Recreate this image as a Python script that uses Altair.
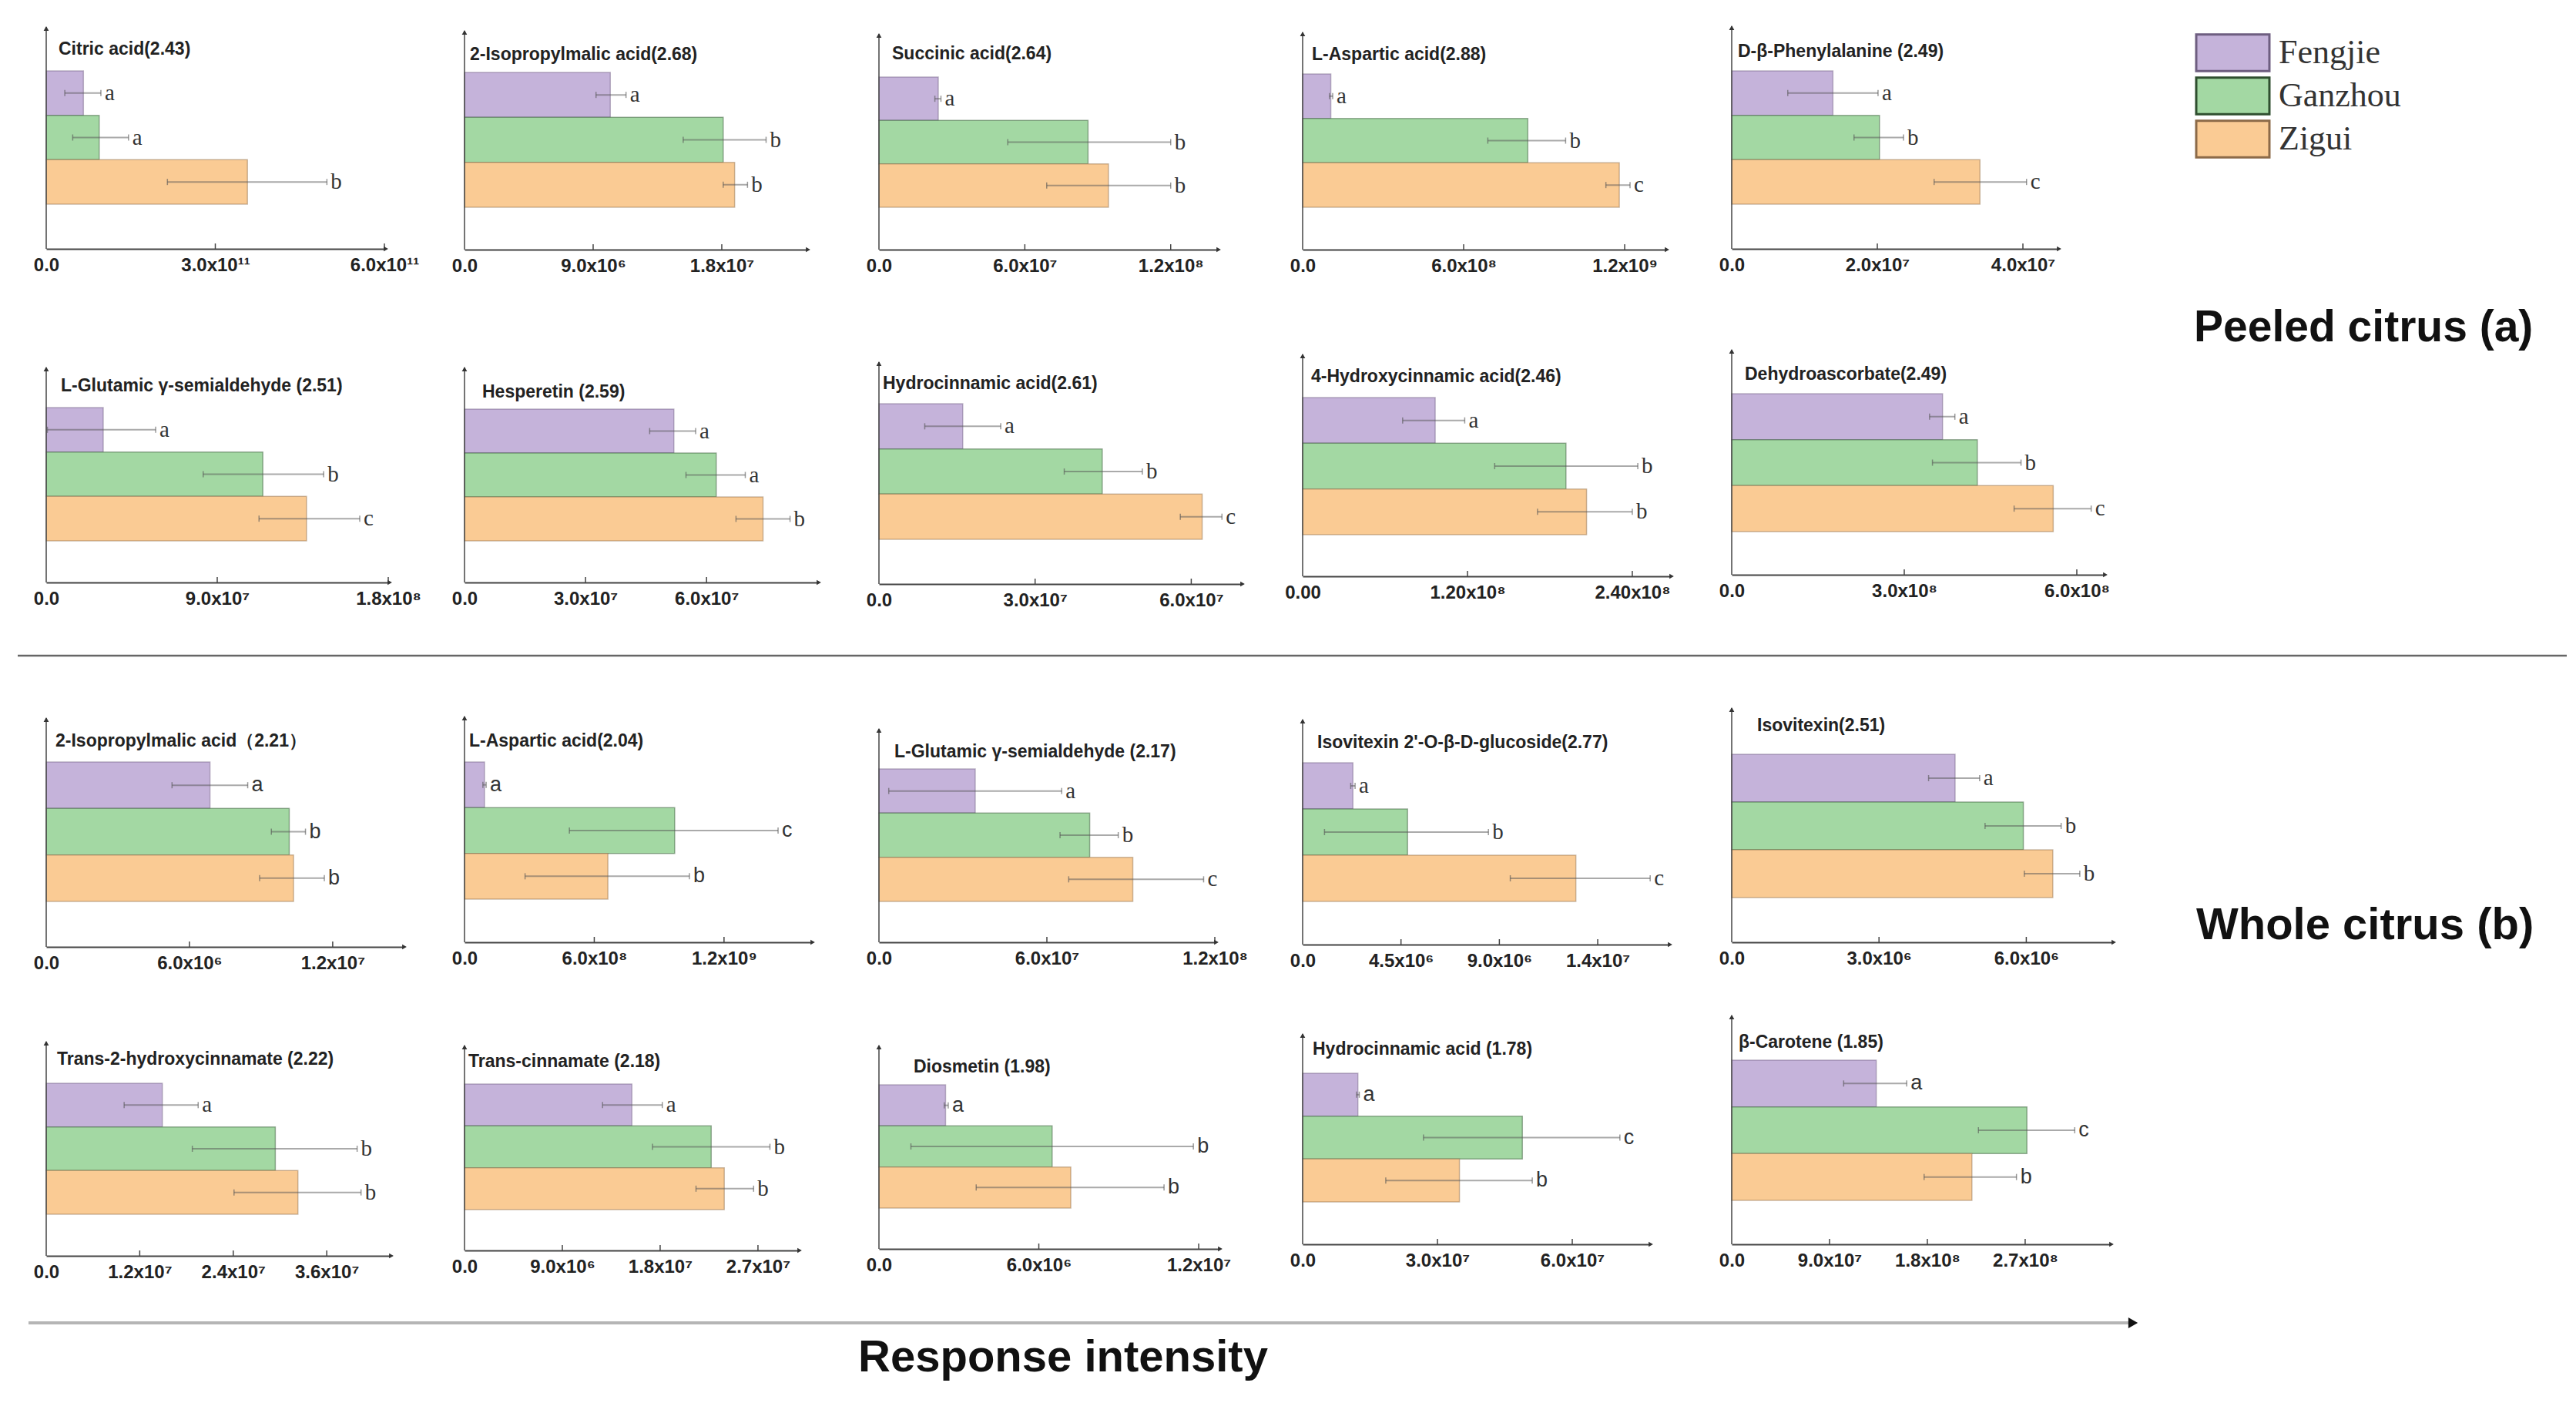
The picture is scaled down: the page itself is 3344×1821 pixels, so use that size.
import altair as alt
import pandas as pd

# ---------------- data ----------------
REGIONS = ["Fengjie", "Ganzhou", "Zigui"]

TITLES = [
    "Citric acid(2.43)", "2-Isopropylmalic acid(2.68)", "Succinic acid(2.64)",
    "L-Aspartic acid(2.88)", "D-β-Phenylalanine (2.49)",
    "L-Glutamic γ-semialdehyde (2.51)", "Hesperetin (2.59)", "Hydrocinnamic acid(2.61)",
    "4-Hydroxycinnamic acid(2.46)", "Dehydroascorbate(2.49)",
    "2-Isopropylmalic acid（2.21）", "L-Aspartic acid(2.04)", "L-Glutamic γ-semialdehyde (2.17)",
    "Isovitexin 2'-O-β-D-glucoside(2.77)", "Isovitexin(2.51)",
    "Trans-2-hydroxycinnamate (2.22)", "Trans-cinnamate (2.18)", "Diosmetin (1.98)",
    "Hydrocinnamic acid (1.78)", "β-Carotene (1.85)",
]

MEANS = [
    [0.66e11, 0.94e11, 3.57e11], [10.2e6, 18.1e6, 18.9e6], [24.4e6, 86e6, 94.4e6],
    [1.05e8, 8.39e8, 11.8e8], [13.9e6, 20.3e6, 34.1e6],
    [30e6, 114e6, 137e6], [51.9e6, 62.4e6, 74e6], [16.1e6, 42.9e6, 62.1e6],
    [96.5e6, 191.7e6, 206.7e6], [366.6e6, 427e6, 559e6],
    [6.86e6, 10.18e6, 10.36e6], [0.925e8, 9.72e8, 6.63e8], [34.4e6, 75.3e6, 90.7e6],
    [2.3e6, 4.8e6, 12.5e6], [4.55e6, 5.94e6, 6.54e6],
    [14.9e6, 29.4e6, 32.3e6], [15.4e6, 22.7e6, 23.9e6], [2.5e6, 6.5e6, 7.2e6],
    [12.3e6, 48.9e6, 34.9e6], [133e6, 271.6e6, 221e6],
]
ERR_LO = [
    [0.33e11, 0.47e11, 2.15e11], [9.2e6, 15.3e6, 18.1e6], [23.0e6, 53e6, 69e6],
    [1.0e8, 6.9e8, 11.3e8], [7.7e6, 16.8e6, 27.8e6],
    [0.6e6, 82.6e6, 112e6], [45.9e6, 54.9e6, 67.3e6], [8.8e6, 35.6e6, 57.9e6],
    [72.8e6, 139.8e6, 171e6], [344e6, 349e6, 491e6],
    [5.27e6, 9.43e6, 8.94e6], [0.85e8, 4.85e8, 2.8e8], [3.5e6, 64.7e6, 67.8e6],
    [2.2e6, 1.0e6, 9.5e6], [4.01e6, 5.16e6, 5.96e6],
    [10.0e6, 18.75e6, 24.1e6], [12.7e6, 17.3e6, 21.3e6], [2.45e6, 1.2e6, 3.65e6],
    [12.0e6, 26.9e6, 18.5e6], [103e6, 227e6, 177e6],
]
ERR_HI = [
    [0.97e11, 1.46e11, 4.98e11], [11.3e6, 21.1e6, 19.8e6], [25.5e6, 120e6, 120e6],
    [1.12e8, 9.8e8, 12.2e8], [20.1e6, 23.6e6, 40.5e6],
    [57.6e6, 146e6, 165e6], [57.3e6, 69.6e6, 80.7e6], [23.4e6, 50.6e6, 65.9e6],
    [118e6, 244e6, 240e6], [388e6, 503e6, 625e6],
    [8.44e6, 10.86e6, 11.65e6], [1.0e8, 14.5e8, 10.4e8], [65.3e6, 85.5e6, 116e6],
    [2.4e6, 8.5e6, 15.9e6], [5.05e6, 6.71e6, 7.09e6],
    [19.5e6, 39.9e6, 40.4e6], [18.2e6, 28.1e6, 26.6e6], [2.6e6, 11.8e6, 10.7e6],
    [12.6e6, 70.6e6, 51.1e6], [161e6, 315.6e6, 262e6],
]
LETTERS = [
    ["a", "a", "b"], ["a", "b", "b"], ["a", "b", "b"], ["a", "b", "c"], ["a", "b", "c"],
    ["a", "b", "c"], ["a", "a", "b"], ["a", "b", "c"], ["a", "b", "b"], ["a", "b", "c"],
    ["a", "b", "b"], ["a", "c", "b"], ["a", "b", "c"], ["a", "b", "c"], ["a", "b", "b"],
    ["a", "b", "b"], ["a", "b", "b"], ["a", "b", "b"], ["a", "c", "b"], ["a", "c", "b"],
]
TICKS = [
    [0, 3e11, 6e11], [0, 9e6, 1.8e7], [0, 6e7, 1.2e8], [0, 6e8, 1.2e9], [0, 2e7, 4e7],
    [0, 9e7, 1.8e8], [0, 3e7, 6e7], [0, 3e7, 6e7], [0, 1.2e8, 2.4e8], [0, 3e8, 6e8],
    [0, 6e6, 1.2e7], [0, 6e8, 1.2e9], [0, 6e7, 1.2e8], [0, 4.5e6, 9e6, 1.35e7], [0, 3e6, 6e6],
    [0, 1.2e7, 2.4e7, 3.6e7], [0, 9e6, 1.8e7, 2.7e7], [0, 6e6, 1.2e7], [0, 3e7, 6e7],
    [0, 9e7, 1.8e8, 2.7e8],
]
TICK_LABELS = [
    ["0.0", "3.0x10¹¹", "6.0x10¹¹"], ["0.0", "9.0x10⁶", "1.8x10⁷"], ["0.0", "6.0x10⁷", "1.2x10⁸"],
    ["0.0", "6.0x10⁸", "1.2x10⁹"], ["0.0", "2.0x10⁷", "4.0x10⁷"],
    ["0.0", "9.0x10⁷", "1.8x10⁸"], ["0.0", "3.0x10⁷", "6.0x10⁷"], ["0.0", "3.0x10⁷", "6.0x10⁷"],
    ["0.00", "1.20x10⁸", "2.40x10⁸"], ["0.0", "3.0x10⁸", "6.0x10⁸"],
    ["0.0", "6.0x10⁶", "1.2x10⁷"], ["0.0", "6.0x10⁸", "1.2x10⁹"], ["0.0", "6.0x10⁷", "1.2x10⁸"],
    ["0.0", "4.5x10⁶", "9.0x10⁶", "1.4x10⁷"], ["0.0", "3.0x10⁶", "6.0x10⁶"],
    ["0.0", "1.2x10⁷", "2.4x10⁷", "3.6x10⁷"], ["0.0", "9.0x10⁶", "1.8x10⁷", "2.7x10⁷"],
    ["0.0", "6.0x10⁶", "1.2x10⁷"], ["0.0", "3.0x10⁷", "6.0x10⁷"],
    ["0.0", "9.0x10⁷", "1.8x10⁸", "2.7x10⁸"],
]
# value at the arrow head of each x axis
XMAX = [
    6.0e11, 23.93e6, 13.91e7, 13.52e8, 4.476e7,
    18.0e7, 8.746e7, 6.956e7, 2.675e8, 6.469e8,
    14.94e6, 16.03e8, 12.0e7, 16.74e6, 7.751e6,
    4.409e7, 30.69e6, 12.75e6, 7.714e7, 3.480e8,
]

# ---------------- styles / layout ----------------
FILL = ["#C5B3DA", "#A3D8A3", "#FACB94"]
EDGE = ["#6E5E80", "#2F4F2F", "#8C6A48"]
SERIF = "Liberation Serif"
SANS = "Liberation Sans"
LETTER_FONT = [SERIF] * 10 + [SANS, SANS, SERIF, SERIF, SERIF, SERIF, SERIF, SANS, SANS, SANS]

COL_SPACE = 80
ROW_SPACE = 80
PANEL_W = [439, 444, 439, 471, 423, 444, 458, 470, 477, 483,
           463, 450, 436, 475, 494, 446, 433, 441, 450, 491]
PANEL_H = [293, 294, 294, 294, 293, 352, 352, 354, 344, 342,
           391, 385, 385, 388, 385, 321, 314, 312, 306, 306]
AXIS_TOP = [5, 10, 14, 12, 4, 73, 73, 66, 56, 50, 94, 92, 108, 96, 81, 43, 48, 48, 33, 9]
BAR_TOP = [62, 64, 70, 66, 62, 125, 127, 120, 112, 107, 151, 151, 160, 152, 141, 97, 98, 99, 84, 67]
BAR_BOT = [235, 239, 239, 239, 235, 298, 298, 296, 290, 286, 332, 329, 332, 332, 327, 267, 261, 259, 251, 249]
TITLE_Y = [34, 41, 40, 41, 37, 97, 105, 94, 85, 82, 124, 124, 138, 126, 104, 66, 69, 76, 53, 44]
TITLE_DX = [16, 7, 17, 12, 8, 19, 23, 5, 11, 17, 12, 6, 20, 19, 33, 14, 5, 45, 13, 9]

FILL_SCALE = alt.Scale(domain=REGIONS, range=FILL)
EDGE_SCALE = alt.Scale(domain=REGIONS, range=EDGE)
LEGEND = alt.Legend(
    orient="none", legendX=2813, legendY=13, title=None,
    symbolType="M-2,-1L2,-1L2,1L-2,1Z", symbolSize=2256,
    symbolStrokeWidth=3, symbolOpacity=1,
    labelFont=SERIF, labelFontSize=44, labelColor="#333", labelOffset=34, labelLimit=600,
    rowPadding=-9, padding=0,
)
ONE = alt.Data(values=[{"k": 0}])


def label_expr(vals, labs):
    s = "''"
    for v, l in reversed(list(zip(vals, labs))):
        s = f"datum.value == {float(v)!r} ? '{l}' : ({s})"
    return s


def annotations():
    def txt(s, x, y, size, align="left"):
        return alt.Chart(alt.Data(values=[{"t": s}])).mark_text(
            align=align, baseline="alphabetic", font=SANS, fontWeight="bold",
            fontSize=size, color="#111").encode(x=alt.value(x), y=alt.value(y), text="t:N")
    one = alt.Chart(ONE)
    sep = one.mark_rule(color="#666", strokeWidth=2.5).encode(
        x=alt.value(-37), x2=alt.value(3272), y=alt.value(821))
    bottom = one.mark_rule(color="#b5b5b5", strokeWidth=4).encode(
        x=alt.value(-23), x2=alt.value(2705), y=alt.value(1687))
    head = one.mark_point(shape="triangle-right", filled=True, size=200, color="#111", opacity=1).encode(
        x=alt.value(2709), y=alt.value(1687))
    return [sep, bottom, head,
            txt("Peeled citrus (a)", 2788, 413, 57),
            txt("Whole citrus (b)", 2791, 1189, 58),
            txt("Response intensity", 1320, 1750, 58, align="center")]


def panel(i):
    W, H = PANEL_W[i], PANEL_H[i]
    df = pd.DataFrame({"region": REGIONS, "val": MEANS[i], "lo": ERR_LO[i],
                       "hi": ERR_HI[i], "sig": LETTERS[i]})
    xs = alt.Scale(domain=[0, XMAX[i]], nice=False, zero=True)
    ys = alt.Scale(domain=REGIONS, range=[BAR_TOP[i], BAR_BOT[i]], paddingInner=0, paddingOuter=0)
    ax = alt.Axis(values=TICKS[i], labelExpr=label_expr(TICKS[i], TICK_LABELS[i]),
                  ticks=False, tickSize=0, domain=True, domainColor="#444", domainWidth=2,
                  labelFont=SANS, labelFontSize=24, labelFontWeight="bold", labelColor="#222",
                  labelPadding=9, labelFlush=False, labelOverlap=False, labelBound=False,
                  grid=False, title=None)
    Y = alt.Y("region:N", scale=ys, axis=None)
    base = alt.Chart(df)
    bars = base.mark_bar(strokeWidth=1.5, strokeOpacity=0.45).encode(
        x=alt.X("val:Q", scale=xs, axis=ax),
        y=Y,
        fill=alt.Fill("region:N", scale=FILL_SCALE, legend=LEGEND),
        stroke=alt.Stroke("region:N", scale=EDGE_SCALE, legend=LEGEND),
    )
    err = base.mark_rule(color="#555", strokeWidth=2, opacity=0.5).encode(
        x=alt.X("lo:Q", scale=xs, axis=ax), x2="hi:Q", y=Y)
    cap = base.mark_tick(color="#555", size=8, thickness=1.5, opacity=0.6).encode(
        x=alt.X("hi:Q", scale=xs, axis=ax), y=Y)
    cap2 = base.mark_tick(color="#555", size=8, thickness=1.5, opacity=0.6).encode(
        x=alt.X("lo:Q", scale=xs, axis=ax), y=Y)
    sig = base.mark_text(align="left", baseline="middle", dx=5, font=LETTER_FONT[i],
                         fontSize=29 if LETTER_FONT[i] == SERIF else 27, color="#333").encode(
        x=alt.X("hi:Q", scale=xs, axis=ax), y=Y, text="sig:N")
    tdf = pd.DataFrame({"t": TICKS[i][1:]})
    tks = alt.Chart(tdf).mark_rule(color="#444", strokeWidth=1.5).encode(
        x=alt.X("t:Q", scale=xs, axis=ax), y=alt.value(H - 7), y2=alt.value(H))
    one = alt.Chart(ONE)
    yline = one.mark_rule(color="#444", strokeWidth=1.5).encode(
        x=alt.value(0), y=alt.value(AXIS_TOP[i]), y2=alt.value(H))
    uparrow = one.mark_point(shape="triangle-up", filled=True, size=45, color="#333", opacity=1).encode(
        x=alt.value(0), y=alt.value(AXIS_TOP[i] + 2))
    rarrow = one.mark_point(shape="triangle-right", filled=True, size=45, color="#333", opacity=1).encode(
        x=alt.value(W + 2), y=alt.value(H))
    title = alt.Chart(alt.Data(values=[{"t": TITLES[i]}])).mark_text(
        align="left", baseline="middle", font=SANS, fontWeight="bold", fontSize=23, color="#222"
    ).encode(x=alt.value(TITLE_DX[i]), y=alt.value(TITLE_Y[i]), text="t:N")
    layers = [bars, err, cap, cap2, tks, yline, uparrow, rarrow, title, sig]
    if i == 0:
        layers += annotations()
    return alt.layer(*layers).properties(width=W, height=H)


chart = alt.concat(
    *[panel(i) for i in range(20)],
    columns=5,
    spacing={"row": ROW_SPACE, "column": COL_SPACE},
    align={"row": "each", "column": "each"},
    bounds="flush",
    padding={"left": 13, "top": 22, "right": 0, "bottom": 0},
    background="white",
).resolve_scale(x="independent", y="independent"
).configure_view(stroke="transparent", strokeWidth=0)

chart.save("out.html", embed_options={"renderer": "svg", "actions": False})
